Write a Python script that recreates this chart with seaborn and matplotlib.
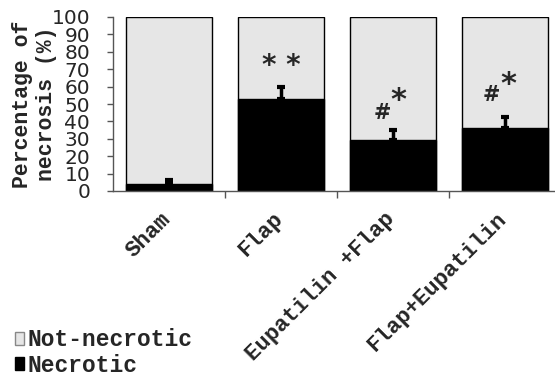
import numpy as np
import matplotlib
matplotlib.use("Agg")
import matplotlib.pyplot as plt
from matplotlib.patches import Patch
from matplotlib.transforms import ScaledTranslation
import seaborn as sns

# -------------------------
# Data
# -------------------------
groups = ["Sham", "Flap", "Eupatilin +Flap", "Flap+Eupatilin"]
necrotic = [4, 53, 29.5, 36]
necrotic_err = [2.5, 7, 5.5, 6.3]
total = [100, 100, 100, 100]

# significance marks: (group index, text)
marks = [(1, "* *"), (2, "#"), (2, "*"), (3, "#"), (3, "*")]

sns.set_style("ticks")
mono = "Liberation Mono"

fig = plt.figure(figsize=(5.55, 3.76), dpi=100)
ax = fig.add_axes([113 / 555, 1 - 191 / 376, (555 - 113) / 555, 174 / 376])

sns.barplot(x=groups, y=total, color="#e6e6e6", edgecolor="black",
            linewidth=1, width=0.77, errorbar=None, ax=ax, saturation=1)
sns.barplot(x=groups, y=necrotic, color="black", edgecolor="black",
            linewidth=1, width=0.77, errorbar=None, ax=ax, saturation=1)

x = np.arange(len(groups))
ax.errorbar(x, necrotic, yerr=[np.zeros(len(groups)), necrotic_err],
            fmt="none", ecolor="black", elinewidth=2.5, capsize=3, capthick=3)

# significance symbols
mark_pos = {(1, "* *"): (0.0, 72, 20), (2, "#"): (-0.09, 45, 15),
            (2, "*"): (0.05, 52, 22), (3, "#"): (-0.12, 55, 15),
            (3, "*"): (0.03, 61, 22)}
for i, txt in marks:
    dx, yy, fs = mark_pos[(i, txt)]
    ax.text(x[i] + dx, yy, txt, ha="center", va="center", fontsize=fs,
            family="DejaVu Sans", fontweight="bold")

ax.set_xlim(-0.5, 3.45)
ax.set_ylim(0, 100)
ax.set_yticks(range(0, 101, 10))
ax.tick_params(axis="y", length=4.5, width=1, color="#555555", pad=12,
               labelsize=14.5)
for t in ax.get_yticklabels():
    t.set_family("DejaVu Sans")

ax.set_xticks(x)
ax.set_xticklabels(groups, rotation=45, ha="right", rotation_mode="anchor",
                   family=mono, fontweight="bold", fontsize=16)
ax.tick_params(axis="x", length=0, pad=14)
ax.set_xticks([0.5, 1.5, 2.5], minor=True)
ax.tick_params(axis="x", which="minor", length=5, width=1, color="#555555")
ax.set_xlabel("")
shift = ScaledTranslation(-0.09, 0.02, fig.dpi_scale_trans)
for lab in ax.get_xticklabels():
    lab.set_transform(lab.get_transform() + shift)

ax.set_ylabel("Percentage of\nnecrosis (%)", family=mono, fontweight="bold",
              fontsize=15.5, va="center", linespacing=1.2)
ax.yaxis.set_label_coords(-0.178, 0.5)

for side in ["top", "right"]:
    ax.spines[side].set_visible(False)
for side in ["left", "bottom"]:
    ax.spines[side].set_color("#555555")
    ax.spines[side].set_linewidth(1)

handles = [Patch(facecolor="#e6e6e6", edgecolor="#888888", label="Not-necrotic"),
           Patch(facecolor="black", edgecolor="black", label="Necrotic")]
fig.legend(handles=handles, loc="lower left", bbox_to_anchor=(0.022, -0.008),
           frameon=False, prop={"family": mono, "weight": "bold", "size": 16.5},
           handlelength=0.4, handleheight=0.5, handletextpad=0.15,
           labelspacing=0.1, borderpad=0.1, borderaxespad=0)

fig.savefig("out.png", dpi=100)
